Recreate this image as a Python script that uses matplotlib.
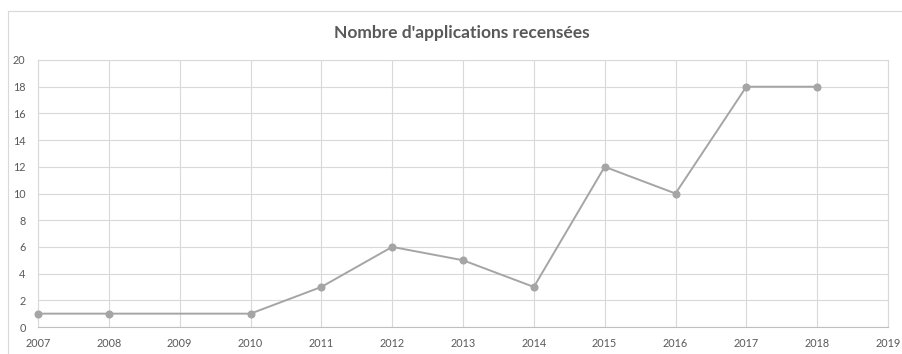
import matplotlib
matplotlib.use("Agg")
import matplotlib.pyplot as plt
from matplotlib.lines import Line2D

years = [2007, 2008, 2009, 2010, 2011, 2012, 2013, 2014, 2015, 2016, 2017, 2018]
counts = [1, 1, None, 1, 3, 6, 5, 3, 12, 10, 18, 18]
x_ticks = list(range(2007, 2020))
y_ticks = list(range(0, 21, 2))
title = "Nombre d'applications recensées"

plt.rcParams['font.family'] = ['Lato', 'DejaVu Sans']

fig = plt.figure(figsize=(9.02, 3.54), dpi=100)
ax = fig.add_axes([38 / 902, 1 - 327 / 354, 850 / 902, 267 / 354])

# years without a value are skipped, so the line bridges the gap
xs = [y for y, c in zip(years, counts) if c is not None]
ys = [c for c in counts if c is not None]
ax.plot(xs, ys, color='#a5a5a5', lw=1.4, marker='o', ms=4.8,
        markerfacecolor='#a5a5a5', markeredgecolor='#a5a5a5', zorder=3,
        clip_on=False)

ax.set_xlim(2007, 2019)
ax.set_ylim(0, 20)
ax.set_xticks(x_ticks)
ax.set_yticks(y_ticks)
ax.set_xticklabels([str(t) for t in x_ticks])
ax.grid(True, color='#d9d9d9', lw=0.8)
ax.set_axisbelow(True)
for side in ['top', 'right', 'left']:
    ax.spines[side].set_color('#d9d9d9')
    ax.spines[side].set_linewidth(0.8)
ax.spines['bottom'].set_color('#bfbfbf')
ax.spines['bottom'].set_linewidth(0.8)
ax.tick_params(axis='both', length=0, labelsize=7.8, colors='#595959')
ax.tick_params(axis='x', pad=8)
ax.tick_params(axis='y', pad=9)

fig.text(462 / 902, 1 - 33 / 354, title, ha='center', va='center',
         fontsize=12.5, fontweight='bold', color='#595959')

# chart frame
fig.add_artist(Line2D([8 / 902, 8 / 902], [0, 1 - 11 / 354],
                      transform=fig.transFigure, color='#d9d9d9', lw=0.8))
fig.add_artist(Line2D([8 / 902, 1], [1 - 11 / 354, 1 - 11 / 354],
                      transform=fig.transFigure, color='#d9d9d9', lw=0.8))

fig.savefig('out.png', dpi=100, facecolor='white')
